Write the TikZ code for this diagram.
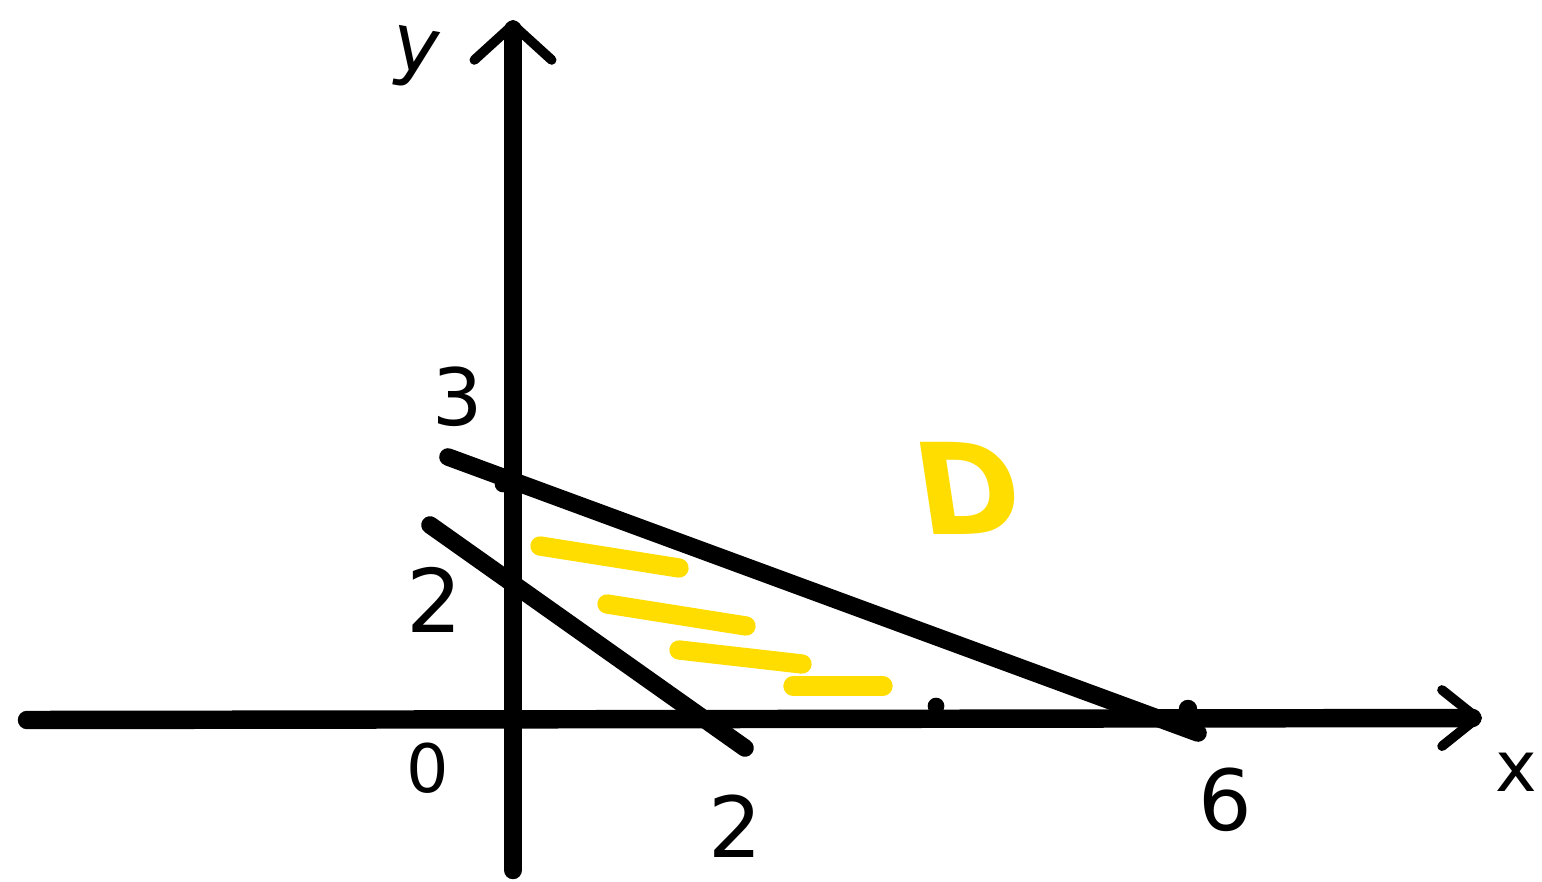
\documentclass[tikz,border=0pt]{standalone}
\usepackage{fontspec}
\setmainfont{DejaVu Sans}
\usetikzlibrary{arrows.meta}
\definecolor{hiyellow}{HTML}{FFDD00}
\tikzset{
  axisline/.style={line width=10.5pt, line cap=round, line join=round},
  graphline/.style={line width=10pt, line cap=round},
  hatch/.style={line width=11pt, line cap=round, draw=hiyellow},
  dotmark/.style={circle, fill=black, inner sep=0pt, minimum size=9.5pt},
  lbl/.style={font=\fontsize{45}{50}\selectfont, inner sep=0pt}
}
\begin{document}
\begin{tikzpicture}[x=0.02cm, y=-0.02cm]
\useasboundingbox (0,0) rectangle (1542,882);
% axes
\coordinate (yb) at (513,870);
\coordinate (yt) at (513,20);
\coordinate (xl) at (27,720);
\coordinate (xr) at (1482,718);
\draw[axisline, -{Straight Barb[length=20pt, width=44pt, line width=5.5pt, round]}] (yb) -- (yt);
\draw[axisline, -{Straight Barb[length=20pt, width=32pt, line width=5.5pt, round]}] (xl) -- (xr);
% lines
\coordinate (a1) at (448,457);
\coordinate (a2) at (1198,733);
\coordinate (b1) at (430,525);
\coordinate (b2) at (745,748);
\draw[graphline] (a1) -- (a2);
\draw[graphline] (b1) -- (b2);
% dots
\node[dotmark] (d1) at (503,484) {};
\node[dotmark] (d2) at (936,706) {};
\node[dotmark, minimum size=10.5pt] (d3) at (1188,709) {};
% yellow hatches
\coordinate (h1a) at (540,546); \coordinate (h1b) at (679,568);
\coordinate (h2a) at (607,604); \coordinate (h2b) at (746,626);
\coordinate (h3a) at (679,650); \coordinate (h3b) at (802,664);
\coordinate (h4a) at (793,686); \coordinate (h4b) at (883,686);
\draw[hatch] (h1a) -- (h1b);
\draw[hatch] (h2a) -- (h2b);
\draw[hatch] (h3a) -- (h3b);
\draw[hatch] (h4a) -- (h4b);
% labels
\node[lbl, rotate=-10] (ly) at (415,58) {y};
\node[lbl, font=\fontsize{40}{42}\selectfont] (lx) at (1516,772) {x};
\node[lbl] (l3) at (458,397) {3};
\node[lbl, font=\fontsize{50}{55}\selectfont] (l2a) at (434,600) {2};
\node[lbl, font=\fontsize{38}{40}\selectfont] (l0) at (428,768) {0};
\node[lbl, font=\fontsize{48}{52}\selectfont] (l2b) at (735,826) {2};
\node[lbl, font=\fontsize{48}{52}\selectfont] (l6) at (1225,800) {6};
\node[lbl, font=\fontsize{72}{76}\selectfont\bfseries, text=hiyellow, xslant=-0.15] (lD) at (968,488) {D};
\end{tikzpicture}
\end{document}
